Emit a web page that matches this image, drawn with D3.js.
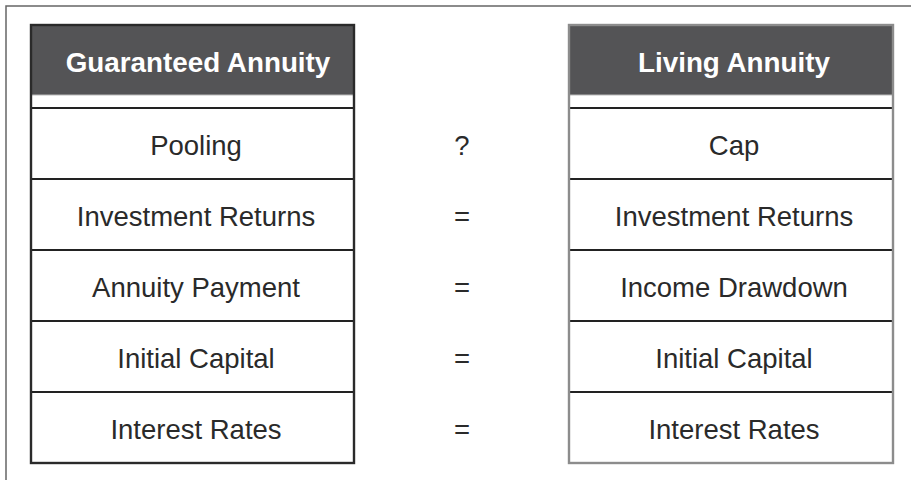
<!DOCTYPE html>
<html>
<head>
<meta charset="utf-8">
<script src="https://d3js.org/d3.v7.min.js"></script>
<style>
  body { margin: 0; background: #fff; }
  svg { display: block; font-family: Arial, "Liberation Sans", Helvetica, sans-serif; }
</style>
</head>
<body>
<svg id="chart" width="911" height="480"></svg>
<script>
// table contents
const headers = ["Guaranteed Annuity", "Living Annuity"];
const leftLabels = ["Pooling", "Investment Returns", "Annuity Payment", "Initial Capital", "Interest Rates"];
const symbols = ["?", "=", "=", "=", "="];
const rightLabels = ["Cap", "Investment Returns", "Income Drawdown", "Initial Capital", "Interest Rates"];

const svg = d3.select("#chart");

// frame (top + left only, runs off the page)
svg.append("path")
    .attr("d", "M6,480 V6 H911")
    .attr("fill", "none")
    .attr("stroke", "#666")
    .attr("stroke-width", 1.5);

const headerTop = 25, headerBottom = 95, rowsTop = 108, rowsBottom = 463;

let rowScale = d3.scaleBand()
    .domain(d3.range(leftLabels.length))
    .range([rowsTop, rowsBottom]);

let tables = [
    {header: headers[0], labels: leftLabels, x0: 31, x1: 354, textX: 196, headX: 198, border: "#2a2a2a"},
    {header: headers[1], labels: rightLabels, x0: 569, x1: 893, textX: 734, headX: 734, border: "#8c8c8c"}
];

tables.forEach(function(t){
    let g = svg.append("g");

    // header block
    g.append("rect")
        .attr("x", t.x0).attr("y", headerTop)
        .attr("width", t.x1 - t.x0).attr("height", headerBottom - headerTop)
        .attr("fill", "#545456");
    g.append("line")
        .attr("x1", t.x0).attr("x2", t.x1)
        .attr("y1", headerBottom).attr("y2", headerBottom)
        .attr("stroke", "#bbb").attr("stroke-width", 1);

    g.append("text")
        .attr("x", t.headX)
        .attr("y", (headerTop + headerBottom) / 2 + 2)
        .attr("dy", "0.35em")
        .attr("text-anchor", "middle")
        .attr("fill", "#fff")
        .attr("font-weight", "bold")
        .attr("font-size", 27.8)
        .text(t.header);

    // row separators
    g.selectAll("line.row")
        .data(d3.range(t.labels.length))
        .join("line")
        .attr("class", "row")
        .attr("x1", t.x0).attr("x2", t.x1)
        .attr("y1", d => rowScale(d)).attr("y2", d => rowScale(d))
        .attr("stroke", "#222").attr("stroke-width", 2.2);

    g.selectAll("text.cell")
        .data(t.labels)
        .join("text")
        .attr("class", "cell")
        .attr("x", t.textX)
        .attr("y", (d, i) => rowScale(i) + rowScale.bandwidth() / 2 + 2)
        .attr("dy", "0.35em")
        .attr("text-anchor", "middle")
        .attr("fill", "#2a2a2a")
        .attr("font-size", 27.5)
        .text(d => d);

    // outer border
    g.append("rect")
        .attr("x", t.x0).attr("y", headerTop)
        .attr("width", t.x1 - t.x0).attr("height", rowsBottom - headerTop)
        .attr("fill", "none")
        .attr("stroke", t.border)
        .attr("stroke-width", 2.4);
});

// middle column symbols
svg.selectAll("text.sym")
    .data(symbols)
    .join("text")
    .attr("class", "sym")
    .attr("x", 462)
    .attr("y", (d, i) => rowScale(i) + rowScale.bandwidth() / 2 + 2)
    .attr("dy", "0.35em")
    .attr("text-anchor", "middle")
    .attr("fill", "#2a2a2a")
    .attr("font-size", 27.5)
    .text(d => d);
</script>
</body>
</html>
